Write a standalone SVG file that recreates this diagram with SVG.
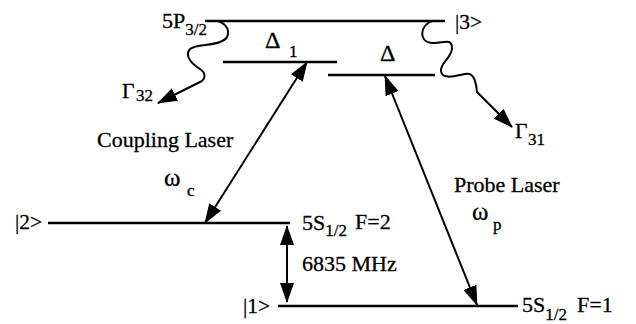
<svg xmlns="http://www.w3.org/2000/svg" width="636" height="324" viewBox="0 0 636 324">
<defs>
<style>
.lvl{stroke:#000;stroke-width:2.5;fill:none}
.dbl{stroke:#000;stroke-width:2;fill:none;marker-start:url(#ah);marker-end:url(#ah)}
.wav{stroke:#000;stroke-width:2;fill:none;marker-end:url(#ah)}
text{font-family:"Liberation Serif","Times New Roman",serif;font-size:22px;fill:#000;stroke:#000;stroke-width:0.3}
.sub{font-size:17px}
.sm{font-size:21.5px}
.gk{font-size:24px}
.om{font-size:25px}
</style>
<marker id="ah" viewBox="0 0 20 14" refX="19" refY="7" markerWidth="20" markerHeight="14" orient="auto-start-reverse" markerUnits="userSpaceOnUse">
<path d="M0,0 L20,7 L0,14 z" fill="#000"/>
</marker>
</defs>
<rect width="636" height="324" fill="#fff"/>
<g id="level3">
<line class="lvl" x1="205" y1="21" x2="445" y2="21"/>
<text x="162" y="28">5P<tspan class="sub" dy="7">3/2</tspan></text>
<text class="sm" x="455" y="29">|3&gt;</text>
</g>
<g id="detuning1">
<line class="lvl" x1="223" y1="62" x2="337" y2="62"/>
<text class="gk" x="265" y="48">Δ</text>
<text class="sub" x="289" y="57">1</text>
</g>
<g id="detuning">
<line class="lvl" x1="328" y1="75" x2="435" y2="75"/>
<text class="gk" x="380" y="61">Δ</text>
</g>
<g id="level2">
<line class="lvl" x1="48" y1="223" x2="290" y2="223"/>
<text class="sm" x="15" y="229">|2&gt;</text>
<text x="302" y="230">5S<tspan class="sub" dy="6">1/2</tspan></text>
<text x="355" y="229">F=2</text>
</g>
<g id="level1">
<line class="lvl" x1="278" y1="306" x2="518" y2="306"/>
<text class="sm" x="243" y="313">|1&gt;</text>
<text x="522" y="312">5S<tspan class="sub" dy="8">1/2</tspan></text>
<text x="577" y="312">F=1</text>
</g>
<g id="labels">
<text x="97" y="147">Coupling Laser</text>
<text class="om" x="164" y="186">ω</text>
<text class="sub" x="187" y="196">c</text>
<text x="454" y="192">Probe Laser</text>
<text class="om" x="472" y="220">ω</text>
<text class="sub" x="493" y="230">p</text>
<text x="302" y="271">6835 MHz</text>
<text class="sm" x="122" y="98">Γ</text>
<text class="sub" x="136" y="101">32</text>
<text class="sm" x="515" y="138">Γ</text>
<text class="sub" x="528" y="145">31</text>
</g>
<g id="connectors">
<line class="dbl" x1="307" y1="62" x2="205" y2="223"/>
<line class="dbl" x1="385" y1="76" x2="477" y2="305"/>
<line class="dbl" x1="287" y1="226" x2="287" y2="302"/>
<path class="wav" d="M218,21 C230,25 232,38 220,42 C210,46 196,44 190,49 C184,56 192,64 200,69 C206,73 206,79 200,82 L158,103"/>
<path class="wav" d="M432,21 C420,25 418,42 432,43 C442,44 452,37 452,48 C452,58 440,63 441,71 C442,80 455,76 465,74 C474,72 476,82 477,92 L512,127"/>
</g>
</svg>
